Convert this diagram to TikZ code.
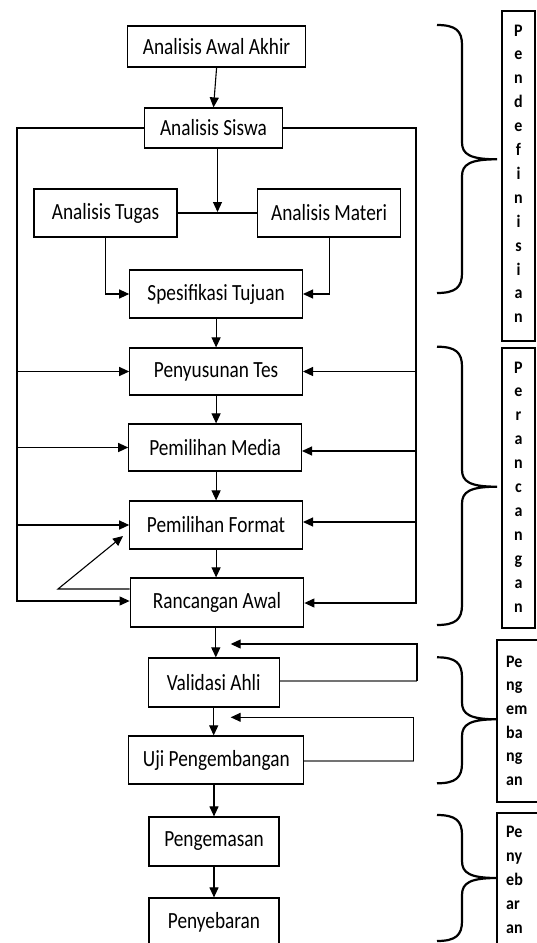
\documentclass[tikz,border=0pt]{standalone}
\usepackage{fontspec}
\setmainfont{Carlito}
\usetikzlibrary{arrows.meta}
\newcommand\vstr[1]{\scalebox{1}[1.2]{#1}}
\newcommand\lstr[1]{\scalebox{1}[1.1]{#1}}
\newcommand\mybrace[3]{%
  \draw[brc] (437,#1) .. controls (456,#1) and (462,#1+6) .. (462,#1+20)
    -- (462,#2-17) .. controls (462,#2-5) and (470,#2) .. (497,#2)
    .. controls (470,#2) and (462,#2+5) .. (462,#2+17)
    -- (462,#3-20) .. controls (462,#3-6) and (456,#3) .. (437,#3);}
\tikzset{
  box/.style={draw, line width=1.2pt, inner sep=0pt, font=\fontsize{19.3}{22}\selectfont},
  arr/.style={-{Triangle[length=10pt,width=9pt]}, line width=1.1pt},
  ln/.style={line width=1.1pt},
  gln/.style={line width=1.6pt, draw=black!55},
  brc/.style={line width=2.2pt},
  lbox/.style={draw, line width=1.1pt},
  lbl/.style={font=\bfseries\fontsize{16}{18}\selectfont, inner sep=0pt, anchor=base},
  lbll/.style={lbl, anchor=base west},
}
\begin{document}
\begin{tikzpicture}[x=1pt,y=-1pt]
\clip (0,0) rectangle (537,943);
\fill[white] (0,0) rectangle (537,943);

% boxes
\node[box, minimum width=178.4pt, minimum height=41pt] (awal) at (216.6,46.5) {\vstr{Analisis Awal Akhir}};
\node[box, minimum width=138pt, minimum height=40pt] (siswa) at (213.5,128) {\vstr{Analisis Siswa}};
\node[box, minimum width=143pt, minimum height=48pt] (tugas) at (105.5,213) {\vstr{Analisis Tugas}};
\node[box, minimum width=143.2pt, minimum height=48pt] (materi) at (329.1,213) {\vstr{Analisis Materi}};
\node[box, minimum width=172.6pt, minimum height=48pt] (spes) at (216.1,294) {\vstr{Spesifikasi Tujuan}};
\node[box, minimum width=172.6pt, minimum height=47pt] (tes) at (216.1,371.5) {\vstr{Penyusunan Tes}};
\node[box, minimum width=172.6pt, minimum height=47pt] (media) at (215.1,447.5) {\vstr{Pemilihan Media}};
\node[box, minimum width=172.6pt, minimum height=48pt] (format) at (216.1,525) {\vstr{Pemilihan Format}};
\node[box, minimum width=173.6pt, minimum height=49pt] (ranc) at (217,602.5) {\vstr{Rancangan Awal}};
\node[box, minimum width=130.8pt, minimum height=49pt] (valid) at (213.7,682.5) {\vstr{Validasi Ahli}};
\node[box, minimum width=175pt, minimum height=48pt] (uji) at (216.3,760) {\vstr{Uji Pengembangan}};
\node[box, minimum width=130pt, minimum height=49pt] (kemas) at (214,841.5) {\vstr{Pengemasan}};
\node[box, minimum width=130pt, minimum height=48pt] (sebar) at (214,922) {\vstr{Penyebaran}};

% main vertical arrows
\draw[arr] (awal.south) -- (siswa.north);
\coordinate (jn) at (217.5,212);
\draw[ln] (tugas.east) -- (materi.west);
\draw[arr] (siswa.south -| jn) -- (jn);
\draw[arr] (tugas.south) |- (spes.west);
\draw[arr] (materi.south) |- (spes.east);
\draw[arr] (spes.south) -- (tes.north);
\draw[arr] (tes.south) -- (media.north -| tes.south);
\draw[arr] (media.south -| format.south) -- (format.north);
\draw[arr] (format.south) -- (ranc.north -| format.south);
\draw[arr] (ranc.south -| 215.8,0) -- (valid.north -| 215.8,0);
\draw[arr] (valid.south) -- (uji.north -| valid.south);
\draw[arr] (uji.south -| kemas.north) -- (kemas.north);
\draw[arr] (kemas.south) -- (sebar.north);

% left feedback bus
\coordinate (lbot) at (17,601);
\draw[arr] (siswa.west) -| (lbot) -- (lbot -| ranc.west);
\draw[arr] (lbot |- tes.west) -- (tes.west);
\draw[arr] (lbot |- media.west) -- (media.west);
\draw[arr] (lbot |- format.west) -- (format.west);

% right feedback bus
\coordinate (rbot) at (416,603);
\draw[arr] (siswa.east) -| (rbot) -- (rbot -| ranc.east);
\draw[arr] (rbot |- tes.east) -- (tes.east);
\draw[arr] (rbot |- 0,451) -- (media.east |- 0,451);
\draw[arr] (rbot |- 0,522) -- (format.east |- 0,522);

% loop from Rancangan to Format
\coordinate (lp) at (58,589);
\coordinate (lptip) at (123,536);
\draw[arr] (ranc.west |- lp) -- (lp) -- (lptip);

% validation loops
\coordinate (v1r) at (417,681);
\coordinate (v1t) at (417,644);
\coordinate (v1tip) at (230.7,644);
\draw[gln] (valid.east |- v1r) -- (v1r);
\draw[arr] (v1r) -- (v1t) -- (v1tip);
\coordinate (v2r) at (413.5,761);
\coordinate (v2t) at (413.5,717.3);
\coordinate (v2tip) at (230.7,717.3);
\draw[gln] (uji.east |- v2r) -- (v2r);
\draw[arr] (v2r) -- (v2t) -- (v2tip);

% braces
\mybrace{25}{159.3}{293}
\mybrace{346.7}{486.7}{625}
\mybrace{657.3}{719.3}{783.3}
\mybrace{815}{878}{941}

% label boxes
\draw[lbox] (502,11) rectangle (535,341);
\foreach \c [count=\i from 0] in {P,e,n,d,e,f,i,n,i,s,i,a,n}
  \node[lbl] (la\i) at (518.5,36+23.9*\i) {\lstr{\c}};
\draw[lbox] (502,348) rectangle (535,628);
\foreach \c [count=\i from 0] in {P,e,r,a,n,c,a,n,g,a,n}
  \node[lbl] (lb\i) at (518.5,373+23.9*\i) {\lstr{\c}};
\draw[lbox] (497,640) rectangle (545,802);
\foreach \c [count=\i from 0] in {Pe,ng,em,ba,ng,an}
  \node[lbll] (lc\i) at (506,667+23.7*\i) {\lstr{\c}};
\draw[lbox] (497,813) rectangle (545,950);
\foreach \c [count=\i from 0] in {Pe,ny,eb,ar,an}
  \node[lbll] (ld\i) at (506,837+24*\i) {\lstr{\c}};
\end{tikzpicture}
\end{document}
